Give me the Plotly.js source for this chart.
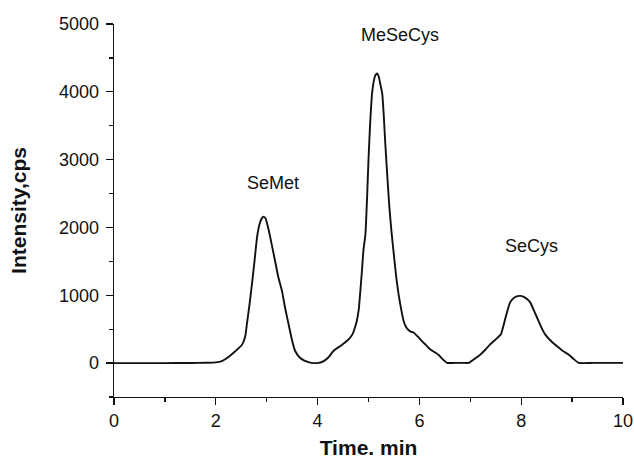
<!DOCTYPE html>
<html>
<head>
<meta charset="utf-8">
<script src="https://cdn.plot.ly/plotly-3.0.1.min.js"></script>
<style>html,body{margin:0;padding:0;background:#fff;}#chart{width:634px;height:459px;}</style>
</head>
<body>
<div id="chart"></div>
<script>
// Retention time (min)
var timeMin = [0, 0.5, 1.0, 1.5, 1.8, 2.0, 2.12, 2.25, 2.35, 2.45, 2.52, 2.58, 2.61, 2.66, 2.71, 2.76, 2.81, 2.86, 2.90, 2.94, 2.98, 3.02, 3.07, 3.15, 3.23, 3.30, 3.36, 3.43, 3.50, 3.56, 3.64, 3.73, 3.82, 3.92, 4.02, 4.12, 4.22, 4.31, 4.38, 4.45, 4.53, 4.61, 4.69, 4.74, 4.77, 4.81, 4.84, 4.87, 4.90, 4.94, 4.97, 5.00, 5.03, 5.07, 5.11, 5.14, 5.17, 5.20, 5.23, 5.27, 5.30, 5.33, 5.37, 5.41, 5.45, 5.49, 5.54, 5.59, 5.64, 5.69, 5.74, 5.79, 5.84, 5.89, 5.97, 6.05, 6.13, 6.21, 6.30, 6.38, 6.46, 6.54, 6.70, 6.85, 6.97, 7.08, 7.20, 7.30, 7.39, 7.47, 7.55, 7.60, 7.65, 7.71, 7.78, 7.84, 7.91, 7.98, 8.05, 8.12, 8.18, 8.26, 8.34, 8.40, 8.47, 8.58, 8.70, 8.80, 8.88, 8.93, 9.03, 9.13, 9.40, 9.70, 10.0];
// Intensity (cps)
var intensity = [0, 0, 0, 2, 5, 10, 30, 90, 152, 220, 276, 400, 572, 850, 1164, 1500, 1854, 2050, 2130, 2160, 2130, 2020, 1854, 1560, 1262, 1065, 820, 572, 330, 178, 90, 40, 15, 0, 3, 30, 90, 178, 220, 251, 300, 350, 430, 540, 621, 800, 1065, 1350, 1657, 1904, 2400, 3000, 3500, 3975, 4180, 4250, 4270, 4230, 4120, 3975, 3650, 3235, 2750, 2300, 1950, 1657, 1300, 1016, 800, 621, 530, 484, 460, 448, 390, 325, 265, 203, 160, 118, 55, 3, 3, 3, 3, 60, 128, 200, 276, 330, 385, 420, 547, 720, 892, 950, 985, 991, 975, 940, 892, 760, 621, 520, 424, 330, 251, 190, 150, 128, 60, 3, 3, 3, 3];

var peakLabels = ["SeMet", "MeSeCys", "SeCys"];
var peakLabelX = [3.12, 5.62, 8.2];
var peakLabelY = [2660, 4840, 1720];

var xTitle = "Time. min";
var yTitle = "Intensity,cps";

var FONT = "Liberation Sans, Arial, sans-serif";

var trace = {
  x: timeMin,
  y: intensity,
  type: "scatter",
  mode: "lines",
  line: {color: "#111", width: 1.9, shape: "spline", smoothing: 0.4},
  hoverinfo: "skip"
};

var annotations = peakLabels.map(function(t, i){
  return {x: peakLabelX[i], y: peakLabelY[i], xref: "x", yref: "y", text: t,
    showarrow: false, font: {family: FONT, size: 18, color: "#111"}};
});

var layout = {
  width: 634, height: 459,
  margin: {l: 113.6, r: 11.2, t: 24, b: 62, pad: 0},
  paper_bgcolor: "#fff", plot_bgcolor: "#fff",
  showlegend: false,
  font: {family: FONT, size: 18, color: "#111"},
  xaxis: {
    range: [0, 10], tick0: 0, dtick: 2, ticks: "outside", ticklen: 7, tickwidth: 1.3, tickcolor: "#111",
    minor: {dtick: 1, ticks: "outside", ticklen: 4, tickwidth: 1.3, tickcolor: "#111"},
    showline: true, linecolor: "#111", linewidth: 1.4, showgrid: false, zeroline: false,
    tickfont: {family: FONT, size: 18, color: "#111"},
    title: {text: "<b>" + xTitle + "</b>", font: {family: FONT, size: 21, color: "#111"}, standoff: 15},
    automargin: false, fixedrange: true
  },
  yaxis: {
    range: [-500, 5000], tick0: 0, dtick: 1000, ticks: "outside", ticklen: 7, tickwidth: 1.3, tickcolor: "#111",
    minor: {dtick: 500, ticks: "outside", ticklen: 4, tickwidth: 1.3, tickcolor: "#111"},
    showline: true, linecolor: "#111", linewidth: 1.4, showgrid: false, zeroline: false,
    tickfont: {family: FONT, size: 18, color: "#111"}, ticklabelstandoff: 3,
    title: {text: "<b>" + yTitle + "</b>", font: {family: FONT, size: 21, color: "#111"}, standoff: 26},
    automargin: false, fixedrange: true
  },
  annotations: annotations
};

Plotly.newPlot("chart", [trace], layout, {displayModeBar: false, staticPlot: true});
</script>
</body>
</html>
